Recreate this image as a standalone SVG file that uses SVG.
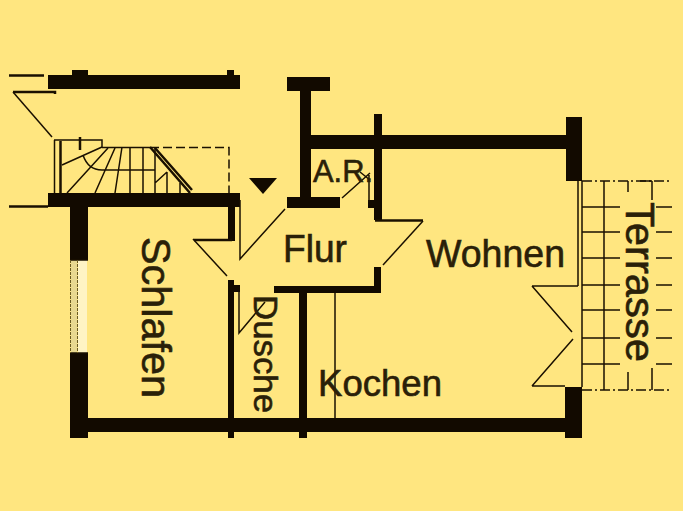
<svg xmlns="http://www.w3.org/2000/svg" width="683" height="511" viewBox="0 0 683 511">
<style>
.w{fill:#120a00}
.t{fill:none;stroke:#1a1000;stroke-width:1.5}
.m{fill:none;stroke:#1a1000;stroke-width:2.5}
.d{fill:none;stroke:#1a1000;stroke-width:1.5;stroke-dasharray:9 4}
.dd{fill:none;stroke:#1a1000;stroke-width:1.5;stroke-dasharray:10 3 2 3}
text{font-family:"Liberation Sans",Arial,sans-serif;fill:#2a2008;stroke:#2a2008;stroke-width:.6}
</style>
<rect width="683" height="511" fill="#ffe680"/>
<g id="walls">
<rect class="w" x="48" y="75" width="192" height="14"/>
<rect class="w" x="72" y="70" width="16" height="6"/>
<rect class="w" x="227" y="70" width="7" height="6"/>
<rect class="w" x="48" y="193" width="192" height="14"/>
<rect class="w" x="70" y="207" width="18" height="53"/>
<rect class="w" x="70" y="353" width="18" height="85"/>
<rect class="w" x="228" y="207" width="7" height="34"/>
<rect class="w" x="228" y="280" width="6" height="158"/>
<rect class="w" x="228" y="285" width="12" height="7"/>
<rect class="w" x="88" y="418" width="480" height="14"/>
<rect class="w" x="299" y="286" width="8" height="152"/>
<rect class="w" x="287" y="77" width="43" height="14"/>
<rect class="w" x="300" y="77" width="11" height="128"/>
<rect class="w" x="287" y="197" width="53" height="11"/>
<rect class="w" x="311" y="135" width="257" height="14"/>
<rect class="w" x="374" y="114" width="8" height="106"/>
<rect class="w" x="368" y="200" width="7" height="8"/>
<rect class="w" x="374" y="267" width="7" height="26"/>
<rect class="w" x="274" y="286" width="107" height="7"/>
<rect class="w" x="566" y="117" width="16" height="64"/>
<rect class="w" x="565" y="387" width="17" height="51"/>
</g>
<g id="window">
<rect x="71" y="260" width="6" height="93" fill="#e8d890"/>
<rect x="78" y="260" width="9" height="93" fill="#fff4c4"/>
<path class="t" d="M70 260H88M70 353H88"/>
<path d="M77.500 260V353M70.500 260V353" fill="none" stroke="#6a5a20" stroke-width="1" stroke-dasharray="3 1"/>
</g>
<g id="thin-lines">
<path class="m" d="M9 75.500H44M9 206.500H48M13 92H55V94"/>
<path class="t" d="M13 92L52 137"/>
<path class="m" d="M194 240H232"/>
<path class="t" d="M193 239L227 276M240 200V259L285 209M239 292V333L265 302"/>
<path class="t" d="M369 175V202M342 198L370 173M360 172L370 180M335 293V418"/>
<path class="m" d="M375 220.500H423"/>
<path class="t" d="M423 221L383 265"/>
</g>
<g id="stairs">
<path class="t" d="M54.500 140V193M54 140H102V147M150 147.500H102"/>
<path class="m" d="M60.500 141V193M80 137V150"/>
<path class="d" d="M150 147.500H229V193"/>
<path class="t" d="M62 165L102 147M67 193L108 148M95 193L115 148M115 193L122 147M130 147V193M143 147V193M155 148V193M167 172V193M180 183V193M155 183L167 172M83 155C86 164 92 170 102 170H155"/>
<path class="m" d="M150 147L190 193M155 148L192 190"/>
</g>
<g id="terrace">
<path class="t" d="M578 181V286M582 181V387M604 181V390M532 286H578M532 286L572 332M532 386L573 339M532 386H565"/>
<path class="dd" d="M582 181H672M582 390H672"/>
<path class="t" d="M582 207H620M582 232H620M582 258H620M582 285H620M582 310H620M582 338H620M582 364H620M656 207H672M656 232H672M656 258H672M656 285H672M656 310H672M656 338H672M656 364H672"/>
<path class="t" d="M628 181V192M628 372V390M652 181V200M652 368V390M640 181H652"/>
</g>
<polygon id="marker" points="249,178 277,178 263,194" fill="#120a00"/>
<g id="labels">
<text x="283" y="262" font-size="38" textLength="64" lengthAdjust="spacingAndGlyphs">Flur</text>
<text x="426" y="267" font-size="38" textLength="139" lengthAdjust="spacingAndGlyphs">Wohnen</text>
<text x="318" y="396" font-size="37" textLength="124" lengthAdjust="spacingAndGlyphs">Kochen</text>
<text x="313" y="182" font-size="32" textLength="60" lengthAdjust="spacingAndGlyphs">A.R.</text>
<text transform="translate(142 237) rotate(90)" font-size="40" textLength="161" lengthAdjust="spacingAndGlyphs">Schlafen</text>
<text transform="translate(254 295) rotate(90)" font-size="34" textLength="118" lengthAdjust="spacingAndGlyphs">Dusche</text>
<text transform="translate(626 202) rotate(90)" font-size="40" textLength="160" lengthAdjust="spacingAndGlyphs">Terrasse</text>
</g>
</svg>
